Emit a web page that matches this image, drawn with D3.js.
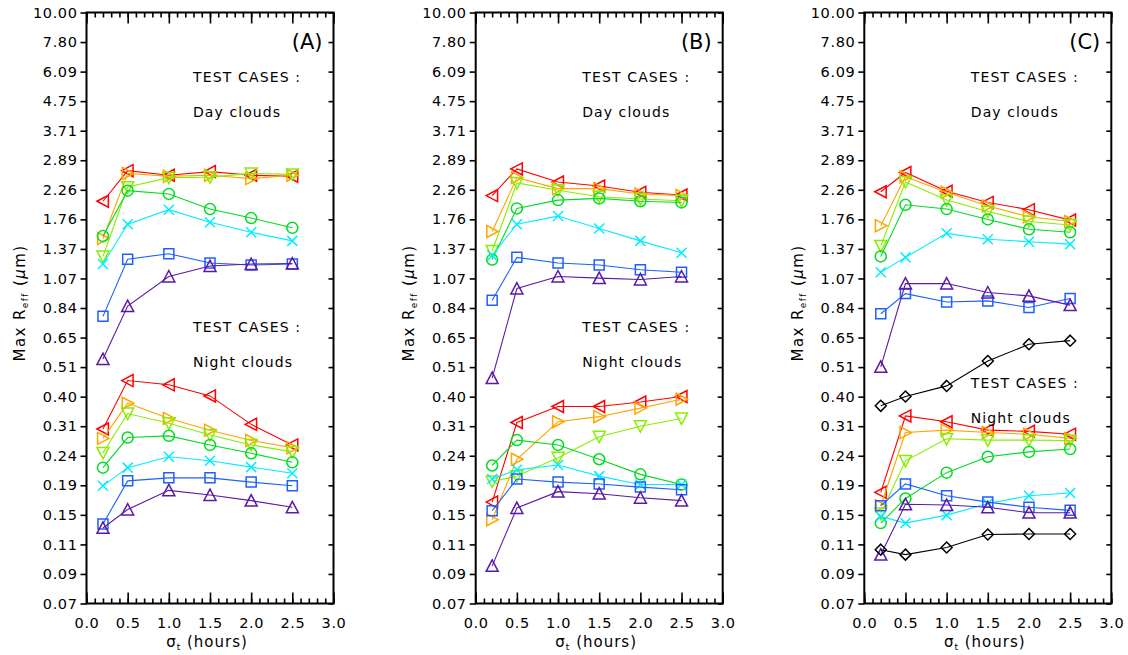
<!DOCTYPE html>
<html><head><meta charset="utf-8">
<script src="https://cdn.jsdelivr.net/npm/d3@7"></script>
<style>body{margin:0;background:#fff}svg{display:block}</style>
</head><body><svg id="chart" width="1128" height="655"></svg>
<script>
// ---------------- data ----------------
const xValues = [0.2, 0.5, 1.0, 1.5, 2.0, 2.5];
const xTickLabels = ["0.0", "0.5", "1.0", "1.5", "2.0", "2.5", "3.0"];
const xTickValues = [0.0, 0.5, 1.0, 1.5, 2.0, 2.5, 3.0];
const yTickLabels = ["0.07","0.09","0.11","0.15","0.19","0.24","0.31","0.40","0.51","0.65",
  "0.84","1.07","1.37","1.76","2.26","2.89","3.71","4.75","6.09","7.80","10.00"];
const seriesNames = ["red", "orange", "yellowgreen", "green", "cyan", "blue", "purple", "black"];
const seriesColors = ["#ff0000", "#ffa500", "#88ee00", "#00dd22", "#00eeff", "#1f5fff", "#5b1aa6", "#000000"];
const seriesSymbols = ["triLeft", "triRight", "triDown", "circle", "cross", "square", "triUp", "diamond"];
const panelLabels = ["(A)", "(B)", "(C)"];

const dayA = [
  [2.05, 2.65, 2.55, 2.63, 2.55, 2.53],
  [1.50, 2.59, 2.53, 2.55, 2.48, 2.55],
  [1.29, 2.31, 2.50, 2.51, 2.59, 2.57],
  [1.53, 2.24, 2.18, 1.92, 1.78, 1.64],
  [1.21, 1.69, 1.91, 1.72, 1.58, 1.47],
  [0.78, 1.26, 1.32, 1.22, 1.20, 1.21],
  [0.545, 0.85, 1.09, 1.19, 1.21, 1.215]
];
const nightA = [
  [0.303, 0.455, 0.439, 0.40, 0.315, 0.265],
  [0.28, 0.376, 0.331, 0.30, 0.275, 0.259],
  [0.248, 0.345, 0.318, 0.288, 0.265, 0.25],
  [0.219, 0.282, 0.286, 0.265, 0.247, 0.229],
  [0.188, 0.219, 0.24, 0.232, 0.22, 0.209],
  [0.1365, 0.196, 0.201, 0.201, 0.194, 0.188],
  [0.132, 0.154, 0.181, 0.174, 0.166, 0.157]
];
const dayB = [
  [2.15, 2.69, 2.41, 2.33, 2.21, 2.16],
  [1.59, 2.50, 2.28, 2.28, 2.18, 2.15],
  [1.35, 2.39, 2.25, 2.13, 2.09, 2.06],
  [1.256, 1.93, 2.07, 2.10, 2.05, 2.03],
  [1.30, 1.69, 1.81, 1.63, 1.47, 1.33],
  [0.893, 1.28, 1.22, 1.20, 1.154, 1.13],
  [0.464, 0.985, 1.09, 1.075, 1.063, 1.09]
];
const nightB = [
  [0.164, 0.32, 0.366, 0.366, 0.38, 0.398],
  [0.1415, 0.235, 0.322, 0.336, 0.361, 0.389],
  [0.195, 0.204, 0.238, 0.284, 0.31, 0.331],
  [0.223, 0.276, 0.265, 0.235, 0.207, 0.19],
  [0.199, 0.215, 0.224, 0.204, 0.19, 0.19],
  [0.1525, 0.199, 0.194, 0.191, 0.186, 0.182],
  [0.096, 0.156, 0.179, 0.176, 0.17, 0.166]
];
const dayC = [
  [2.22, 2.61, 2.23, 2.03, 1.91, 1.75],
  [1.67, 2.52, 2.21, 1.97, 1.80, 1.73],
  [1.41, 2.41, 2.07, 1.88, 1.73, 1.68],
  [1.29, 1.99, 1.92, 1.76, 1.62, 1.58],
  [1.13, 1.28, 1.566, 1.49, 1.46, 1.43],
  [0.797, 0.944, 0.88, 0.888, 0.84, 0.906],
  [0.51, 1.027, 1.027, 0.953, 0.926, 0.857],
  [0.368, 0.398, 0.435, 0.536, 0.617, 0.636]
];
const nightC = [
  [0.178, 0.338, 0.322, 0.30, 0.297, 0.29],
  [0.159, 0.294, 0.30, 0.294, 0.29, 0.28],
  [0.149, 0.232, 0.279, 0.276, 0.276, 0.275],
  [0.1375, 0.169, 0.21, 0.24, 0.25, 0.256],
  [0.1455, 0.1375, 0.147, 0.162, 0.173, 0.177],
  [0.159, 0.191, 0.173, 0.164, 0.157, 0.153],
  [0.1055, 0.161, 0.16, 0.157, 0.15, 0.15],
  [0.11, 0.1055, 0.112, 0.125, 0.1255, 0.1255]
];
const panelDay = [dayA, dayB, dayC];
const panelNight = [nightA, nightB, nightC];

// ---------------- layout ----------------
const FONT = "DejaVu Sans, Verdana, sans-serif";
const panelLefts = [86.5, 475.7, 864.3];
const plotW = 247, plotTop = 12.5, plotBottom = 603.5;
const svg = d3.select("#chart");
svg.append("rect").attr("width", 1128).attr("height", 655).attr("fill", "#fff");

const yScale = d3.scaleLog().domain([0.07, 10]).range([plotBottom, plotTop]);
const yTickValues = yTickLabels.map((_, i) => 0.07 * Math.pow(10 / 0.07, i / 20));
const minorX = d3.range(0, 31).map(i => i / 10);

function symbolPath(type, s) {
  switch (type) {
    case "triLeft": return `M${-s},0L${s*0.9},${-s}L${s*0.9},${s}Z`;
    case "triRight": return `M${s},0L${-s*0.9},${-s}L${-s*0.9},${s}Z`;
    case "triUp": return `M0,${-s}L${-s},${s*0.9}L${s},${s*0.9}Z`;
    case "triDown": return `M0,${s}L${-s},${-s*0.9}L${s},${-s*0.9}Z`;
    case "circle": return `M${s},0A${s},${s} 0 1,1 ${-s},0A${s},${s} 0 1,1 ${s},0Z`;
    case "square": return `M${-s},${-s}H${s}V${s}H${-s}Z`;
    case "cross": return `M${-s},${-s}L${s},${s}M${-s},${s}L${s},${-s}`;
    case "diamond": return `M0,${-s}L${s},0L0,${s}L${-s},0Z`;
  }
}
const symbolSize = {triLeft: 6, triRight: 6, triUp: 6, triDown: 6, circle: 5.5, square: 5, cross: 5, diamond: 5.5};

panelLefts.forEach((left, p) => {
  const g = svg.append("g");
  const xScale = d3.scaleLinear().domain([0, 3]).range([left, left + plotW]);

  // bottom ticks (inward) + labels
  g.append("g").attr("transform", `translate(0,${plotBottom})`)
    .call(d3.axisTop(xScale).tickValues(minorX).tickSize(5).tickFormat(""));
  g.append("g").attr("transform", `translate(0,${plotBottom})`)
    .call(d3.axisTop(xScale).tickValues(xTickValues).tickSize(11).tickFormat(""));
  const bl = g.append("g").attr("transform", `translate(0,${plotBottom})`)
    .call(d3.axisBottom(xScale).tickValues(xTickValues).tickSize(0).tickPadding(14)
      .tickFormat((d, i) => xTickLabels[i]));
  // top ticks (inward)
  g.append("g").attr("transform", `translate(0,${plotTop})`)
    .call(d3.axisBottom(xScale).tickValues(minorX).tickSize(5).tickFormat(""));
  g.append("g").attr("transform", `translate(0,${plotTop})`)
    .call(d3.axisBottom(xScale).tickValues(xTickValues).tickSize(11).tickFormat(""));
  // left axis (ticks outward) with labels
  g.append("g").attr("transform", `translate(${left},0)`)
    .call(d3.axisLeft(yScale).tickValues(yTickValues).tickSize(6).tickPadding(3)
      .tickFormat((d, i) => yTickLabels[i]));
  // right axis ticks (pointing left / inward)
  g.append("g").attr("transform", `translate(${left + plotW},0)`)
    .call(d3.axisLeft(yScale).tickValues(yTickValues).tickSize(5).tickFormat(""));

  g.selectAll(".domain").remove();
  g.selectAll(".tick line").attr("stroke", "#000").attr("stroke-width", 1.6);
  g.selectAll(".tick text").attr("font-family", FONT).attr("font-size", 14.5)
    .attr("letter-spacing", 0.6).attr("fill", "#000");

  // frame
  g.append("rect").attr("x", left).attr("y", plotTop).attr("width", plotW)
    .attr("height", plotBottom - plotTop).attr("fill", "none").attr("stroke", "#000").attr("stroke-width", 2);

  // data
  const groups = [panelDay[p], panelNight[p]];
  groups.forEach(group => {
    group.forEach((vals, si) => {
      const color = seriesColors[si];
      const pts = vals.map((v, i) => [xScale(xValues[i]), yScale(v)]);
      g.append("path").attr("d", d3.line()(pts)).attr("fill", "none")
        .attr("stroke", color).attr("stroke-width", 1.1);
      g.selectAll(null).data(pts).enter().append("path")
        .attr("transform", d => `translate(${d[0]},${d[1]})`)
        .attr("d", symbolPath(seriesSymbols[si], symbolSize[seriesSymbols[si]]))
        .attr("fill", "none").attr("stroke", color).attr("stroke-width", 1.5);
    });
  });

  // annotations
  g.append("text").attr("x", left + plotW - 11).attr("y", 49).attr("text-anchor", "end")
    .attr("font-family", FONT).attr("font-size", 21).text(panelLabels[p]);
  const tx = left + 106.5;
  const dayY = 82, nightY = p === 2 ? 388 : 332;
  const ann = [["TEST CASES :", dayY, 107], ["Day clouds", dayY + 35, 87],
               ["TEST CASES :", nightY, 107], ["Night clouds", nightY + 35, 99]];
  ann.forEach(([t, y, w]) => {
    g.append("text").attr("x", tx).attr("y", y).attr("font-family", FONT).attr("font-size", 14)
      .attr("textLength", w).attr("lengthAdjust", "spacing").text(t);
  });

  // x-axis title
  const xt = g.append("text").attr("x", left + plotW / 2 - 3).attr("y", 647).attr("text-anchor", "middle")
    .attr("font-family", FONT).attr("font-size", 15).attr("letter-spacing", 1);
  xt.append("tspan").text("σ");
  xt.append("tspan").attr("font-size", 9).attr("dy", 3).text("t");
  xt.append("tspan").attr("dy", -3).text(" (hours)");

  // y-axis title
  const cx = left - 66.5, cy = 303;
  const yt = g.append("text").attr("transform", `translate(${cx + 5},${cy}) rotate(-90)`)
    .attr("text-anchor", "middle").attr("font-family", FONT).attr("font-size", 15).attr("letter-spacing", 1.4);
  yt.append("tspan").text("Max R");
  yt.append("tspan").attr("font-size", 9).attr("dy", 3).text("eff");
  yt.append("tspan").attr("dy", -3).text(" (");
  yt.append("tspan").attr("font-style", "italic").text("μ");
  yt.append("tspan").text("m)");
});
</script></body></html>
